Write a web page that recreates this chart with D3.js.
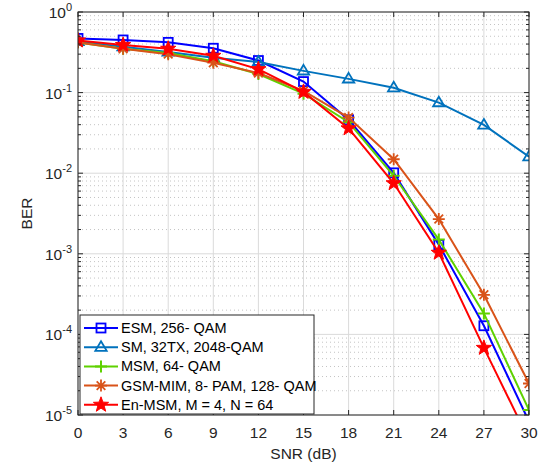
<!DOCTYPE html>
<html>
<head>
<meta charset="utf-8">
<script src="https://cdn.jsdelivr.net/npm/d3@7"></script>
<style>
  body { margin: 0; background: #fff; }
  text { font-family: "Liberation Sans", Arial, sans-serif; }
</style>
</head>
<body>
<div id="chart"></div>
<script>
// SNR points (dB)
const snr = [0, 3, 6, 9, 12, 15, 18, 21, 24, 27, 30];

// BER values
const esm = [0.47, 0.45, 0.42, 0.355, 0.25, 0.137, 0.046, 0.0101, 0.0013, 1.28e-4, 8.3e-6];
const sm = [0.43, 0.37, 0.32, 0.27, 0.24, 0.186, 0.148, 0.115, 0.075, 0.0397, 0.016];
const msm = [0.42, 0.35, 0.31, 0.245, 0.17, 0.097, 0.043, 0.0093, 0.0015, 1.82e-4, 1.15e-5];
const gsm = [0.42, 0.35, 0.30, 0.235, 0.175, 0.105, 0.049, 0.0149, 0.0027, 3.1e-4, 2.46e-5];
const enmsm = [0.443, 0.39, 0.35, 0.286, 0.195, 0.102, 0.036, 0.0075, 0.00103, 6.8e-5, 4.9e-6];

const xTicks = [0, 3, 6, 9, 12, 15, 18, 21, 24, 27, 30];
const yExps = [0, -1, -2, -3, -4, -5];

const series = [
  { name: "ESM, 256- QAM", values: esm, color: "#0000ff", marker: "square" },
  { name: "SM, 32TX, 2048-QAM", values: sm, color: "#0072bd", marker: "triangle" },
  { name: "MSM, 64- QAM", values: msm, color: "#5fd100", marker: "plus" },
  { name: "GSM-MIM, 8- PAM, 128- QAM", values: gsm, color: "#d95319", marker: "asterisk" },
  { name: "En-MSM, M = 4, N = 64", values: enmsm, color: "#ff0000", marker: "star" }
];

const W = 544, H = 468;
const m = { left: 78, right: 529, top: 12, bottom: 415 };
const axisColor = "#262626";

const svg = d3.select("#chart").append("svg")
  .attr("width", W).attr("height", H);

svg.append("defs").append("clipPath").attr("id", "clip")
  .append("rect")
  .attr("x", m.left).attr("y", m.top)
  .attr("width", m.right - m.left).attr("height", m.bottom - m.top);

const x = d3.scaleLinear().domain([0, 30]).range([m.left, m.right]);
const y = d3.scaleLog().domain([1e-5, 1]).range([m.bottom, m.top]);

// minor grid (dotted) for y
const minorVals = [];
for (let e = -5; e < 0; e++) {
  for (let k = 2; k <= 9; k++) minorVals.push(k * Math.pow(10, e));
}
svg.append("g").selectAll("line")
  .data(minorVals).join("line")
  .attr("x1", m.left).attr("x2", m.right)
  .attr("y1", d => y(d)).attr("y2", d => y(d))
  .attr("stroke", "#c4c4c4")
  .attr("stroke-width", 1)
  .attr("stroke-dasharray", "1,3");

// major grid
svg.append("g").selectAll("line")
  .data(yExps).join("line")
  .attr("x1", m.left).attr("x2", m.right)
  .attr("y1", d => y(Math.pow(10, d))).attr("y2", d => y(Math.pow(10, d)))
  .attr("stroke", "#dadada").attr("stroke-width", 1);

svg.append("g").selectAll("line")
  .data(xTicks).join("line")
  .attr("x1", d => x(d)).attr("x2", d => x(d))
  .attr("y1", m.top).attr("y2", m.bottom)
  .attr("stroke", "#dadada").attr("stroke-width", 1);

// series lines
const line = d3.line()
  .x((d, i) => x(snr[i]))
  .y(d => y(d));

const plot = svg.append("g").attr("clip-path", "url(#clip)");

function drawMarker(g, type, color, cx, cy) {
  if (type === "square") {
    g.append("rect")
      .attr("x", cx - 4.5).attr("y", cy - 4.5)
      .attr("width", 9).attr("height", 9)
      .attr("fill", "none").attr("stroke", color).attr("stroke-width", 1.8);
  } else if (type === "triangle") {
    const r = 6;
    g.append("path")
      .attr("d", `M${cx},${cy - r}L${cx + r * 0.95},${cy + r * 0.6}L${cx - r * 0.95},${cy + r * 0.6}Z`)
      .attr("fill", "none").attr("stroke", color).attr("stroke-width", 1.8);
  } else if (type === "plus") {
    const r = 6;
    g.append("path")
      .attr("d", `M${cx - r},${cy}H${cx + r}M${cx},${cy - r}V${cy + r}`)
      .attr("stroke", color).attr("stroke-width", 2);
  } else if (type === "asterisk") {
    const r = 6, q = r * 0.72;
    g.append("path")
      .attr("d", `M${cx - r},${cy}H${cx + r}M${cx},${cy - r}V${cy + r}` +
        `M${cx - q},${cy - q}L${cx + q},${cy + q}M${cx - q},${cy + q}L${cx + q},${cy - q}`)
      .attr("stroke", color).attr("stroke-width", 1.8);
  } else if (type === "star") {
    const R = 8, r = 3.3;
    const pts = [];
    for (let k = 0; k < 10; k++) {
      const a = -Math.PI / 2 + k * Math.PI / 5;
      const rr = k % 2 === 0 ? R : r;
      pts.push([cx + rr * Math.cos(a), cy + rr * Math.sin(a)]);
    }
    g.append("path")
      .attr("d", "M" + pts.map(p => p.join(",")).join("L") + "Z")
      .attr("fill", color).attr("stroke", color).attr("stroke-width", 1);
  }
}

series.forEach(s => {
  const g = plot.append("g");
  g.append("path")
    .datum(s.values)
    .attr("d", line)
    .attr("fill", "none")
    .attr("stroke", s.color)
    .attr("stroke-width", 2);
  s.values.forEach((v, i) => {
    const cy = y(v);
    if (cy <= m.bottom + 1) drawMarker(g, s.marker, s.color, x(snr[i]), cy);
  });
});

// axes box
svg.append("rect")
  .attr("x", m.left).attr("y", m.top)
  .attr("width", m.right - m.left).attr("height", m.bottom - m.top)
  .attr("fill", "none").attr("stroke", axisColor).attr("stroke-width", 1);

// ticks (inside, on all four sides)
const ticks = svg.append("g").attr("stroke", axisColor).attr("stroke-width", 1);
xTicks.forEach(t => {
  ticks.append("line").attr("x1", x(t)).attr("x2", x(t)).attr("y1", m.bottom).attr("y2", m.bottom - 5);
  ticks.append("line").attr("x1", x(t)).attr("x2", x(t)).attr("y1", m.top).attr("y2", m.top + 5);
});
yExps.forEach(e => {
  const yy = y(Math.pow(10, e));
  ticks.append("line").attr("x1", m.left).attr("x2", m.left + 5).attr("y1", yy).attr("y2", yy);
  ticks.append("line").attr("x1", m.right).attr("x2", m.right - 5).attr("y1", yy).attr("y2", yy);
});
minorVals.forEach(v => {
  const yy = y(v);
  ticks.append("line").attr("x1", m.left).attr("x2", m.left + 3).attr("y1", yy).attr("y2", yy);
  ticks.append("line").attr("x1", m.right).attr("x2", m.right - 3).attr("y1", yy).attr("y2", yy);
});

// x tick labels
svg.append("g").selectAll("text")
  .data(xTicks).join("text")
  .attr("x", d => x(d)).attr("y", m.bottom + 23)
  .attr("text-anchor", "middle")
  .attr("font-size", 15.5).attr("fill", axisColor)
  .text(d => d);

// y tick labels with exponents
yExps.forEach(e => {
  const t = svg.append("text")
    .attr("x", m.left - 6).attr("y", y(Math.pow(10, e)) + 6)
    .attr("text-anchor", "end")
    .attr("font-size", 15.5).attr("fill", axisColor);
  t.append("tspan").text("10");
  t.append("tspan").attr("dy", -7).attr("font-size", 11).text(e);
});

// axis titles
svg.append("text")
  .attr("x", (m.left + m.right) / 2).attr("y", 459)
  .attr("text-anchor", "middle")
  .attr("font-size", 15.5).attr("fill", axisColor)
  .text("SNR (dB)");

svg.append("text")
  .attr("transform", `translate(32,${(m.top + m.bottom) / 2}) rotate(-90)`)
  .attr("text-anchor", "middle")
  .attr("font-size", 15.5).attr("fill", axisColor)
  .text("BER");

// legend
const legend = svg.append("g");
legend.append("rect")
  .attr("x", 80).attr("y", 315)
  .attr("width", 234).attr("height", 99)
  .attr("fill", "#fff").attr("stroke", axisColor).attr("stroke-width", 1);

series.forEach((s, i) => {
  const ly = 328 + i * 19.2;
  const g = legend.append("g");
  g.append("line")
    .attr("x1", 84).attr("x2", 118)
    .attr("y1", ly).attr("y2", ly)
    .attr("stroke", s.color).attr("stroke-width", 2);
  drawMarker(g, s.marker, s.color, 101, ly);
  g.append("text")
    .attr("x", 121).attr("y", ly + 5)
    .attr("font-size", 14.5).attr("fill", "#000")
    .text(s.name);
});
</script>
</body>
</html>
